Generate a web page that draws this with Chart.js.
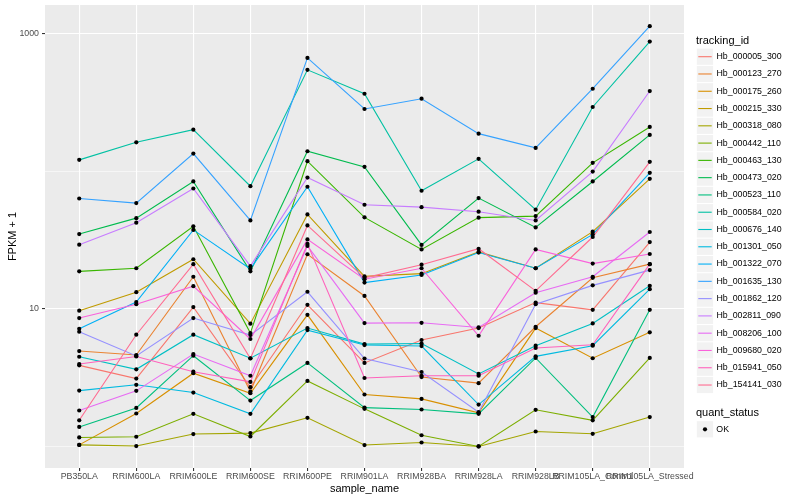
<!DOCTYPE html>
<html>
<head>
<meta charset="utf-8">
<script src="https://cdn.jsdelivr.net/npm/chart.js@4/dist/chart.umd.min.js"></script>
<style>
html,body{margin:0;padding:0;background:#fff;}
#wrap{width:800px;height:500px;position:relative;}
</style>
</head>
<body>
<div id="wrap"><canvas id="c" width="800" height="500"></canvas></div>
<script>
// ---- data ----
const categories = ["PB350LA","RRIM600LA","RRIM600LE","RRIM600SE","RRIM600PE","RRIM901LA","RRIM928BA","RRIM928LA","RRIM928LB","RRIM105LA_Control","RRIM105LA_Stressed"];

const seriesNames = ["Hb_000005_300","Hb_000123_270","Hb_000175_260","Hb_000215_330","Hb_000318_080","Hb_000442_110","Hb_000463_130","Hb_000473_020","Hb_000523_110","Hb_000584_020","Hb_000676_140","Hb_001301_050","Hb_001322_070","Hb_001635_130","Hb_001862_120","Hb_002811_090","Hb_008206_100","Hb_009680_020","Hb_015941_050","Hb_154141_030"];

const seriesColors = ["#F8766D","#EA8331","#D89000","#C09B00","#A3A500","#7CAE00","#39B600","#00BB4E","#00BF7D","#00C1A3","#00BFC4","#00BAE0","#00B0F6","#35A2FF","#9590FF","#C77CFF","#E76BF3","#FA62DB","#FF62BC","#FF6C91"];

const hb_000005_300 = [3.89, 3.12, 10.3, 2.70, 10.7, 4.05, 5.94, 7.25, 11.1, 9.84, 30.5];
const hb_000123_270 = [4.94, 4.62, 17.1, 2.51, 24.9, 12.4, 3.20, 2.89, 7.41, 16.8, 21.1];
const hb_000175_260 = [1.03, 1.74, 3.41, 2.44, 9.05, 2.39, 2.22, 1.76, 7.25, 4.38, 6.75];
const hb_000215_330 = [9.70, 13.2, 22.9, 7.81, 48.4, 17.2, 18.0, 25.9, 19.7, 36.3, 87.8];
const hb_000318_080 = [1.03, 1.01, 1.234, 1.254, 1.62, 1.027, 1.072, 1.003, 1.288, 1.24, 1.64];
const hb_000442_110 = [1.166, 1.18, 1.73, 1.185, 3.00, 1.88, 1.21, 1.003, 1.85, 1.553, 4.40];
const hb_000463_130 = [18.7, 19.7, 39.7, 6.67, 117.8, 46.1, 27.0, 45.9, 47.1, 114.6, 208.9];
const hb_000473_020 = [34.9, 45.5, 84.0, 18.7, 139.1, 107.2, 29.1, 63.6, 39.0, 84.0, 182.8];
const hb_000523_110 = [1.39, 1.91, 4.57, 2.16, 4.05, 1.92, 1.86, 1.73, 4.40, 1.64, 9.84];
const hb_000584_020 = [120.5, 161.6, 199.6, 77.6, 542, 363.8, 71.9, 122.5, 52.4, 291.5, 869];
const hb_000676_140 = [4.49, 3.64, 6.49, 4.38, 7.25, 5.55, 5.60, 3.37, 5.40, 7.84, 14.7];
const hb_001301_050 = [2.55, 2.81, 2.47, 1.73, 7.01, 5.46, 5.37, 2.02, 4.52, 5.40, 13.9];
const hb_001322_070 = [7.17, 11.2, 37.4, 19.5, 76.9, 15.5, 17.6, 25.6, 19.7, 34.7, 97.0];
const hb_001635_130 = [63.2, 58.5, 133.9, 43.8, 662, 281.8, 334.7, 186.7, 147.2, 395.4, 1124];
const hb_001862_120 = [6.82, 4.55, 8.57, 6.45, 13.3, 4.36, 3.48, 1.78, 10.8, 14.8, 19.1];
const hb_002811_090 = [29.2, 42.2, 74.7, 20.4, 89.7, 56.9, 54.7, 50.7, 43.8, 99.1, 380.5];
const hb_008206_100 = [1.83, 2.54, 4.70, 3.27, 28.6, 7.88, 7.92, 7.33, 13.1, 17.1, 36.1];
const hb_009680_020 = [8.57, 10.8, 14.6, 6.04, 31.9, 16.4, 19.7, 6.38, 27.0, 21.3, 25.0];
const hb_015941_050 = [3.98, 4.51, 3.50, 2.95, 29.6, 3.15, 3.27, 3.27, 5.20, 5.49, 21.1];
const hb_154141_030 = [1.553, 6.49, 21.1, 4.36, 40.3, 16.8, 20.9, 27.3, 13.5, 33.2, 116.6];

const yTickValues = [1, 10, 100, 1000];
const yLabelled = [10, 1000];

const seriesValues = [hb_000005_300, hb_000123_270, hb_000175_260, hb_000215_330, hb_000318_080,
  hb_000442_110, hb_000463_130, hb_000473_020, hb_000523_110, hb_000584_020, hb_000676_140,
  hb_001301_050, hb_001322_070, hb_001635_130, hb_001862_120, hb_002811_090, hb_008206_100,
  hb_009680_020, hb_015941_050, hb_154141_030];

// ---- chart ----
const FONT = '"Liberation Sans", Arial, Helvetica, sans-serif';
Chart.defaults.font.family = FONT;

const datasets = seriesValues.map((vals, i) => ({
  type: 'line',
  label: seriesNames[i],
  data: vals.map((v, j) => ({ x: j, y: v })),
  borderColor: seriesColors[i],
  backgroundColor: seriesColors[i],
  borderWidth: 1.1,
  pointRadius: 0,
  pointHoverRadius: 0,
  fill: false,
  tension: 0,
  order: 100 - i
}));
datasets.push({
  type: 'scatter',
  label: 'OK',
  data: seriesValues.flatMap(vals => vals.map((v, j) => ({ x: j, y: v }))),
  backgroundColor: '#000',
  borderColor: '#000',
  borderWidth: 0,
  pointRadius: 2.1,
  pointHoverRadius: 2.1,
  showLine: false,
  order: 0
});

const panelBg = {
  id: 'panelBg',
  beforeDraw(chart) {
    const { ctx, chartArea: a } = chart;
    ctx.save();
    ctx.fillStyle = '#fff';
    ctx.fillRect(0, 0, chart.width, chart.height);
    ctx.fillStyle = '#EBEBEB';
    ctx.fillRect(a.left, a.top, a.right - a.left, a.bottom - a.top);
    ctx.restore();
  }
};

const ggLegend = {
  id: 'ggLegend',
  afterDraw(chart) {
    const ctx = chart.ctx;
    ctx.save();
    ctx.textAlign = 'left';
    ctx.fillStyle = '#000';
    ctx.font = '11px ' + FONT;
    ctx.textBaseline = 'alphabetic';
    ctx.fillText('tracking_id', 696, 44);
    seriesNames.forEach((name, i) => {
      const cy = 56.7 + 17.28 * i;
      ctx.fillStyle = '#F2F2F2';
      ctx.fillRect(696.8, cy - 8.1, 16.3, 16.2);
      ctx.strokeStyle = seriesColors[i];
      ctx.lineWidth = 1.1;
      ctx.beginPath();
      ctx.moveTo(698.3, cy);
      ctx.lineTo(711.7, cy);
      ctx.stroke();
      ctx.fillStyle = '#000';
      ctx.font = '8.8px ' + FONT;
      ctx.textBaseline = 'middle';
      ctx.fillText(name, 716.5, cy);
    });
    ctx.font = '11px ' + FONT;
    ctx.textBaseline = 'alphabetic';
    ctx.fillText('quant_status', 696, 416);
    const cy = 429.3;
    ctx.fillStyle = '#F2F2F2';
    ctx.fillRect(696.8, cy - 8.1, 16.3, 16.2);
    ctx.fillStyle = '#000';
    ctx.beginPath();
    ctx.arc(705, cy, 2.1, 0, Math.PI * 2);
    ctx.fill();
    ctx.font = '8.8px ' + FONT;
    ctx.textBaseline = 'middle';
    ctx.fillText('OK', 716.3, cy);
    ctx.restore();
  }
};

new Chart(document.getElementById('c'), {
  data: { datasets },
  options: {
    responsive: false,
    animation: false,
    devicePixelRatio: 1,
    layout: { padding: { left: 0, right: 116, top: 5, bottom: 0 } },
    plugins: { legend: { display: false }, tooltip: { enabled: false } },
    scales: {
      x: {
        type: 'linear',
        min: -0.6,
        max: categories.length - 1 + 0.6,
        afterBuildTicks: s => { s.ticks = categories.map((c, i) => ({ value: i })); },
        afterFit: s => { s.height = 32; s.paddingLeft = 0; s.paddingRight = 0; },
        ticks: {
          autoSkip: false, maxRotation: 0, minRotation: 0,
          callback: v => categories[v] !== undefined ? categories[v] : '',
          color: '#4D4D4D', font: { size: 8.8 }, padding: 0.5
        },
        grid: { color: '#FFFFFF', lineWidth: 1.1, tickColor: '#333333', tickLength: 3, drawTicks: true },
        border: { display: false },
        title: { display: true, text: 'sample_name', color: '#000', font: { size: 11 }, padding: { top: 0, bottom: 4.5 } }
      },
      y: {
        type: 'logarithmic',
        min: 0.715,
        max: 1602,
        afterBuildTicks: s => { s.ticks = yTickValues.map(v => ({ value: v })); },
        afterFit: s => { s.width = 45; s.paddingTop = 0; s.paddingBottom = 0; },
        ticks: {
          autoSkip: false,
          callback: v => yLabelled.includes(v) ? String(v) : '',
          color: '#4D4D4D', font: { size: 8.8 }, padding: 3
        },
        grid: {
          color: '#FFFFFF',
          lineWidth: c => (c.tick && yLabelled.includes(c.tick.value)) ? 1.1 : 0.55,
          tickColor: c => (c.tick && yLabelled.includes(c.tick.value)) ? '#333333' : 'rgba(0,0,0,0)',
          tickLength: 3, drawTicks: true
        },
        border: { display: false },
        title: { display: true, text: 'FPKM + 1', color: '#000', font: { size: 11 }, padding: { top: 6.5, bottom: 0 } }
      }
    }
  },
  plugins: [panelBg, ggLegend]
});
</script>
</body>
</html>
